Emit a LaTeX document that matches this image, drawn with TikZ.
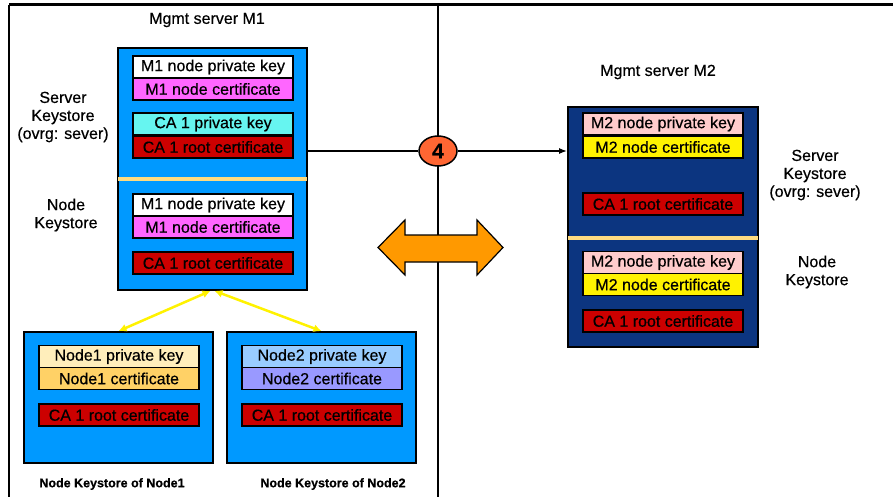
\documentclass[tikz,border=0pt]{standalone}
\usepackage{fontspec}
\setmainfont{Liberation Sans}[FakeBold=0.5]
\usetikzlibrary{shapes.geometric,arrows.meta}

\definecolor{storeblue}{RGB}{0,153,255}
\definecolor{storenavy}{RGB}{12,53,128}
\definecolor{sepyellow}{RGB}{255,219,128}
\definecolor{certmagenta}{RGB}{255,102,255}
\definecolor{cacyan}{RGB}{102,245,240}
\definecolor{rootred}{RGB}{204,0,0}
\definecolor{nodeonekey}{RGB}{255,238,187}
\definecolor{nodeonecert}{RGB}{255,209,102}
\definecolor{nodetwokey}{RGB}{153,204,255}
\definecolor{nodetwocert}{RGB}{153,153,255}
\definecolor{mtwokey}{RGB}{255,204,204}
\definecolor{badge}{RGB}{255,102,51}
\definecolor{swap}{RGB}{255,153,0}

\tikzset{
  store/.style={draw, line width=1.8pt, inner sep=0pt},
  key/.style={draw, line width=1.8pt, minimum width=160pt, minimum height=22pt,
    inner sep=0pt, font=\fontsize{16}{18}\selectfont},
  lbl/.style={align=center, font=\fontsize{16}{18}\selectfont},
  under/.style={font=\bfseries\fontsize{12.5}{14}\selectfont},
  sep/.style={sepyellow, line width=4pt},
  sync/.style={yellow, line width=2.5pt, {Latex[length=8pt,width=8pt]}-{Latex[length=8pt,width=8pt]}},
}

\begin{document}
\begin{tikzpicture}[x=1pt,y=-1pt]
\useasboundingbox (0,0) rectangle (893,497);
% frame
\draw[line width=3pt] (9,5) -- (893,5);
\draw[line width=2pt] (9,5) -- (9,497);
\draw[line width=2pt] (438,5) -- (438,497);

% Mgmt server M1
\node[lbl] (m1title) at (207,20) {Mgmt server M1};
\node[store, fill=storeblue, minimum width=189pt, minimum height=242pt] (m1) at (212.5,169) {};
\draw[sep] ([xshift=1pt]m1.west |- 0,179) -- ([xshift=-1pt]m1.east |- 0,179);
\node[key, fill=white] (m1key) at (213,67) {M1 node private key};
\node[key, fill=certmagenta] (m1cert) at (213,89) {M1 node certificate};
\node[key, fill=cacyan] (cakey) at (213,124) {CA 1 private key};
\node[key, fill=rootred] (m1root) at (213,147) {CA 1 root certificate};
\node[key, fill=white] (m1nkey) at (213,205) {M1 node private key};
\node[key, fill=certmagenta] (m1ncert) at (213,227) {M1 node certificate};
\node[key, fill=rootred] (m1nroot) at (213,263) {CA 1 root certificate};
\node[lbl] (m1srv) at (63,117) {Server\\Keystore\\(ovrg: sever)};
\node[lbl] (m1nd) at (66,215) {Node\\Keystore};

% node keystores
\node[store, fill=storeblue, minimum width=189pt, minimum height=131pt] (n1) at (118.5,397.5) {};
\node[key, fill=nodeonekey] (n1key) at (119,356.5) {Node1 private key};
\node[key, fill=nodeonecert] (n1cert) at (119,378.5) {Node1 certificate};
\node[key, fill=rootred] (n1root) at (119,415) {CA 1 root certificate};
\node[under] (n1lbl) at (112,484) {Node Keystore of Node1};

\node[store, fill=storeblue, minimum width=189pt, minimum height=131pt] (n2) at (321.5,397.5) {};
\node[key, fill=nodetwokey] (n2key) at (322,356.5) {Node2 private key};
\node[key, fill=nodetwocert] (n2cert) at (322,378.5) {Node2 certificate};
\node[key, fill=rootred] (n2root) at (322,415) {CA 1 root certificate};
\node[under] (n2lbl) at (333,484) {Node Keystore of Node2};

\draw[sync] ([xshift=-2pt]m1.south) -- (n1.north);
\draw[sync] ([xshift=2pt]m1.south) -- (n2.north);

% Mgmt server M2
\node[lbl] (m2title) at (658,72) {Mgmt server M2};
\node[store, fill=storenavy, minimum width=190pt, minimum height=240pt] (m2) at (663,227) {};
\draw[sep] ([xshift=1pt]m2.west |- 0,238) -- ([xshift=-1pt]m2.east |- 0,238);
\node[key, fill=mtwokey] (m2key) at (663,124) {M2 node private key};
\node[key, fill=yellow] (m2cert) at (663,147) {M2 node certificate};
\node[key, fill=rootred] (m2root) at (663,204) {CA 1 root certificate};
\node[key, fill=mtwokey] (m2nkey) at (663,262.5) {M2 node private key};
\node[key, fill=yellow] (m2ncert) at (663,284.5) {M2 node certificate};
\node[key, fill=rootred] (m2nroot) at (663,321) {CA 1 root certificate};
\node[lbl] (m2srv) at (815,175) {Server\\Keystore\\(ovrg: sever)};
\node[lbl] (m2nd) at (817,272) {Node\\Keystore};

% step 4
\node[ellipse, draw, line width=1.5pt, fill=badge, minimum width=38pt, minimum height=30pt,
  inner sep=0pt, font=\bfseries\fontsize{21}{21}\selectfont] (four) at (438,151) {4};
\draw[line width=1.5pt] (four) -- (four -| m1.east);
\draw[line width=1.5pt, -{Latex[length=8pt,width=6pt]}] (four) -- (four -| m2.west);

% exchange arrow
\draw[fill=swap, line width=1.2pt] (378,247.5) -- (405,220) -- (405,235) -- (477,235) -- (477,220)
  -- (503,247.5) -- (477,275) -- (477,262) -- (405,262) -- (405,275) -- cycle;
\end{tikzpicture}
\end{document}
